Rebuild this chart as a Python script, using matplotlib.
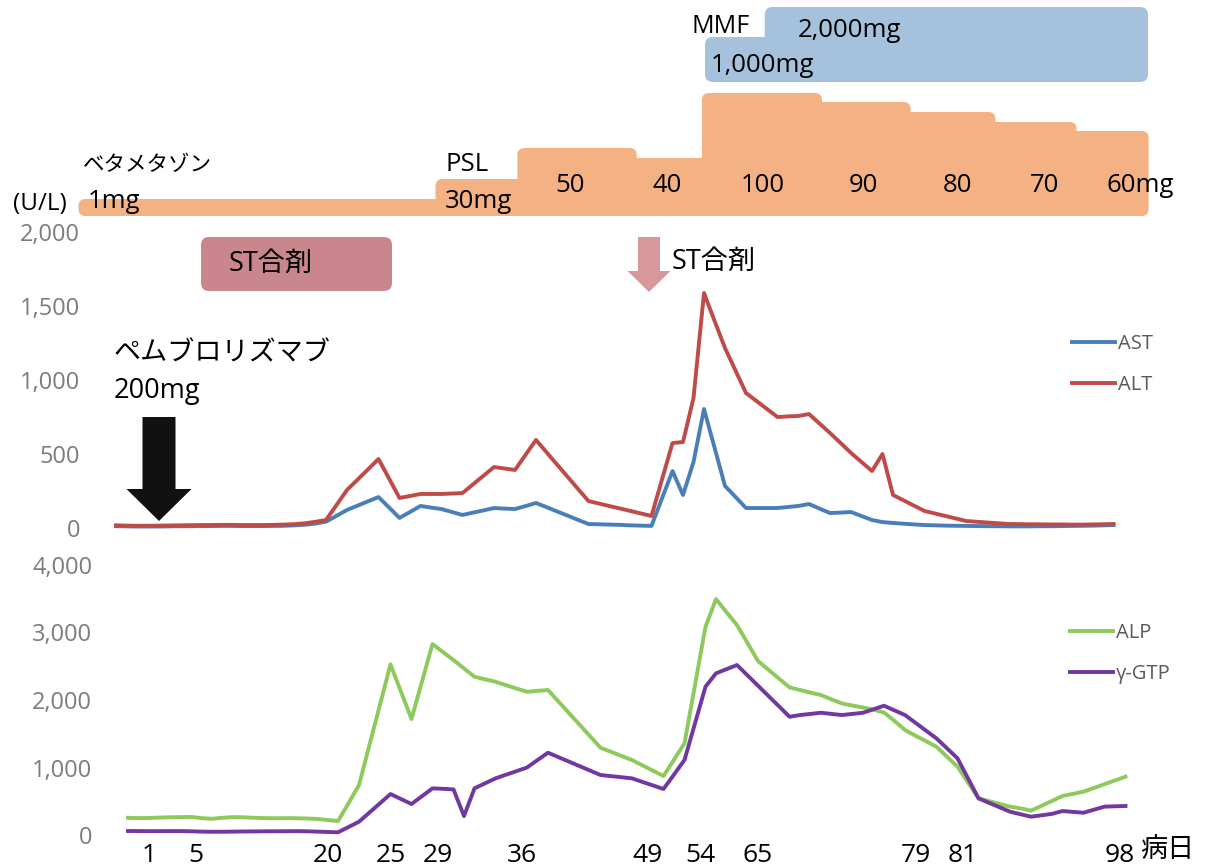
import numpy as np
import matplotlib
matplotlib.use('Agg')
import matplotlib.pyplot as plt
from matplotlib.patches import FancyBboxPatch, FancyArrow, Rectangle

plt.rcParams['font.family'] = ['Open Sans', 'Noto Sans CJK JP', 'DejaVu Sans']

# ---------------- data (one value per measurement, category axis) ----------------
AST = [12, 11, 10, 10, 10, 11, 12, 12, 13, 13,
       14, 14, 13, 13, 13, 14, 15, 18, 22, 30,
       43, 82, 122, 151, 180, 209, 139, 68, 108, 149,
       138, 128, 108, 88, 104, 119, 135, 131, 128, 148,
       169, 141, 112, 84, 55, 27, 25, 23, 21, 18,
       16, 14, 200, 385, 223, 446, 804, 544, 284, 210,
       135, 135, 135, 135, 142, 149, 162, 131, 101, 104,
       108, 81, 54, 40, 34, 29, 24, 20, 18, 16,
       15, 14, 13, 12, 12, 11, 11, 11, 12, 12,
       13, 14, 15, 16, 18, 20]
ALT = [18, 16, 15, 15, 16, 17, 18, 19, 20, 20,
       21, 21, 20, 20, 20, 21, 23, 26, 32, 42,
       54, 155, 257, 326, 396, 466, 335, 203, 216, 230,
       230, 230, 233, 236, 295, 353, 412, 402, 392, 494,
       595, 512, 429, 347, 264, 182, 165, 148, 132, 115,
       98, 81, 328, 574, 581, 878, 1588, 1400, 1216, 1064,
       912, 858, 804, 750, 754, 757, 770, 706, 642, 575,
       507, 446, 385, 500, 223, 187, 151, 115, 98, 81,
       64, 47, 42, 37, 32, 27, 26, 25, 25, 24,
       24, 23, 23, 24, 25, 27]
ALP = [255, 250, 252, 258, 262, 265, 268, 250, 240, 255,
       265, 262, 255, 250, 248, 250, 248, 245, 238, 222,
       207, 470, 740, 1336, 1932, 2528, 2123, 1718, 2274, 2829,
       2710, 2592, 2468, 2344, 2307, 2270, 2220, 2170, 2122, 2135,
       2148, 1977, 1806, 1635, 1464, 1293, 1232, 1171, 1110, 1031,
       953, 874, 1116, 1358, 2222, 3085, 3495, 3300, 3110, 2844,
       2577, 2447, 2317, 2187, 2148, 2110, 2073, 2010, 1948, 1918,
       1889, 1857, 1815, 1690, 1555, 1470, 1390, 1308, 1160, 1012,
       780, 543, 502, 461, 420, 395, 360, 432, 505, 578,
       610, 642, 697, 753, 808, 864]
GGT = [59, 58, 57, 57, 58, 58, 55, 50, 48, 48,
       50, 52, 53, 55, 55, 56, 57, 55, 50, 45,
       40, 118, 197, 334, 470, 607, 533, 459, 575, 691,
       684, 676, 281, 691, 765, 839, 893, 946, 1000, 1110,
       1219, 1153, 1087, 1021, 955, 889, 872, 856, 839, 786,
       734, 681, 896, 1111, 1654, 2197, 2395, 2457, 2518, 2365,
       2212, 2059, 1906, 1752, 1777, 1794, 1811, 1794, 1777, 1794,
       1811, 1863, 1915, 1846, 1777, 1662, 1546, 1431, 1284, 1136,
       840, 543, 477, 411, 345, 308, 271, 292, 313, 355,
       342, 330, 375, 420, 425, 430]

day_labels = ['1', '5', '20', '25', '29', '36', '49', '54', '65', '79', '81', '98']
day_label_pos = [2, 6.5, 19, 25, 29.5, 37.5, 49.5, 54.5, 60, 75, 79.5, 94.5]
upper_ticks = [0, 500, 1000, 1500, 2000]
lower_ticks = [0, 1000, 2000, 3000, 4000]

steroid_labels = ['1mg', '30mg', '50', '40', '100', '90', '80', '70', '60mg']
mmf_labels = ['1,000mg', '2,000mg']

# ---------------- layout (pixels) ----------------
W, H = 1205, 866
STEP = 10.5
n = len(AST)
x = np.arange(n)


def rect(left, top, right, bottom):
    return [left / W, 1 - bottom / H, (right - left) / W, (bottom - top) / H]


fig = plt.figure(figsize=(W / 100, H / 100), dpi=100)

up_left = 116 - STEP / 2
lo_left = 128 - STEP / 2
ax1 = fig.add_axes(rect(up_left, 232, up_left + STEP * n, 528))
ax2 = fig.add_axes(rect(lo_left, 565, lo_left + STEP * n, 835))

C_AST, C_ALT = '#4A7EBB', '#BE4B48'
C_ALP, C_GGT = '#8DC95B', '#7038A0'
GREY = '#7F7A80'
LW = 2.8

l_ast, = ax1.plot(x, AST, color=C_AST, lw=LW, solid_joinstyle='round', clip_on=False)
l_alt, = ax1.plot(x, ALT, color=C_ALT, lw=LW, solid_joinstyle='round', clip_on=False)
l_alp, = ax2.plot(x, ALP, color=C_ALP, lw=LW, solid_joinstyle='round', clip_on=False)
l_ggt, = ax2.plot(x, GGT, color=C_GGT, lw=LW, solid_joinstyle='round', clip_on=False)

for ax, ymax, ticks in ((ax1, 2000, upper_ticks), (ax2, 4000, lower_ticks)):
    ax.set_xlim(-0.5, n - 0.5)
    ax.set_ylim(0, ymax)
    ax.set_facecolor('none')
    for s in ax.spines.values():
        s.set_visible(False)
    ax.set_yticks(ticks, [f'{v:,}' for v in ticks])
    ax.tick_params(axis='y', length=0, pad=22, labelsize=17, labelcolor=GREY)

ax1.set_xticks([])
ax2.set_xticks(day_label_pos, day_labels)
ax2.tick_params(axis='x', length=0, pad=6.0, labelsize=19, labelcolor='black')

leg_kw = dict(loc='upper left', bbox_transform=fig.transFigure, frameon=False,
              borderpad=0, borderaxespad=0, handlelength=2.15, handletextpad=0.15,
              labelspacing=1.05, fontsize=14.5)
leg1 = ax1.legend([l_ast, l_alt], ['AST', 'ALT'], bbox_to_anchor=(1072 / W, 1 - 334 / H), **leg_kw)
leg2 = ax2.legend([l_alp, l_ggt], ['ALP', 'γ-GTP'], bbox_to_anchor=(1070 / W, 1 - 623 / H), **leg_kw)
for lg in (leg1, leg2):
    for t in lg.get_texts():
        t.set_color('#595959')

# ---------------- overlay for treatment annotations ----------------
ov = fig.add_axes([0, 0, 1, 1], zorder=5)
ov.set_xlim(0, W)
ov.set_ylim(H, 0)
ov.axis('off')

C_PSL = '#F4B183'
C_MMF = '#A6C1DC'
C_ST = '#C9878D'
C_STA = '#D6989B'
R = 7

steroid_edges = [78.5, 435.5, 517.4, 636.7, 702, 822, 910.6, 995.4, 1076.5, 1148.6]
steroid_tops = [199, 179, 148, 158, 93, 102, 112, 122, 131]
steroid_bottom = 216
ns = len(steroid_tops)
for i in range(ns):
    left = steroid_edges[i] - (R if i > 0 and steroid_tops[i - 1] < steroid_tops[i] else 0)
    right = steroid_edges[i + 1] + (R if i < ns - 1 and steroid_tops[i + 1] < steroid_tops[i] else 0)
    ov.add_patch(FancyBboxPatch((left, steroid_tops[i]), right - left,
                                steroid_bottom - steroid_tops[i],
                                boxstyle=f'round,pad=0,rounding_size={R}',
                                fc=C_PSL, ec='none'))
ov.add_patch(Rectangle((steroid_edges[0] + R, steroid_bottom - R - 1),
                       steroid_edges[-1] - steroid_edges[0] - 2 * R, R + 1,
                       fc=C_PSL, ec='none'))

# MMF
ov.add_patch(FancyBboxPatch((705, 37), 1148 - 705, 82 - 37,
                            boxstyle='round,pad=0,rounding_size=8', fc=C_MMF, ec='none'))
ov.add_patch(FancyBboxPatch((764.7, 7), 1148 - 764.7, 60 - 7,
                            boxstyle='round,pad=0,rounding_size=8', fc=C_MMF, ec='none'))

# ST box and arrow
ov.add_patch(FancyBboxPatch((201, 237), 392 - 201, 291 - 237,
                            boxstyle='round,pad=0,rounding_size=8', fc=C_ST, ec='none'))
ov.add_patch(FancyArrow(649, 237, 0, 55, width=22, head_width=43, head_length=21,
                        length_includes_head=True, fc=C_STA, ec='none'))
# pembrolizumab arrow
ov.add_patch(FancyArrow(159, 417, 0, 104, width=33, head_width=65, head_length=32,
                        length_includes_head=True, fc='#111111', ec='none'))

TXT = dict(color='black')
ov.text(83, 171, 'ベタメタゾン', fontsize=15.5, va='baseline', ha='left', **TXT)
ov.text(88, 208, steroid_labels[0], fontsize=18.5, va='baseline', ha='left', **TXT)
ov.text(40, 210, '(U/L)', fontsize=17.5, va='baseline', ha='center', **TXT)
ov.text(445, 171, 'PSL', fontsize=18.5, va='baseline', ha='left', **TXT)
ov.text(445, 208, steroid_labels[1], fontsize=18.5, va='baseline', ha='left', **TXT)
dose_centers = [570, 667, 763, 863.5, 957, 1045]
for lab, cx in zip(steroid_labels[2:8], dose_centers):
    ov.text(cx, 192, lab, fontsize=18.5, va='baseline', ha='center', **TXT)
ov.text(1106, 192, steroid_labels[8], fontsize=18.5, va='baseline', ha='left', **TXT)

ov.text(692, 33, 'MMF', fontsize=18, va='baseline', ha='left', **TXT)
ov.text(798, 37, mmf_labels[1], fontsize=18.5, va='baseline', ha='left', **TXT)
ov.text(711, 72, mmf_labels[0], fontsize=18.5, va='baseline', ha='left', **TXT)

ov.text(229, 271, 'ST合剤', fontsize=19.5, va='baseline', ha='left', **TXT)
ov.text(672, 269, 'ST合剤', fontsize=19.5, va='baseline', ha='left', **TXT)

ov.text(114, 360, 'ペムブロリズマブ', fontsize=19.5, va='baseline', ha='left', **TXT)
ov.text(114, 398, '200mg', fontsize=19.5, va='baseline', ha='left', **TXT)

ov.text(1140, 857, '病日', fontsize=19.5, va='baseline', ha='left', **TXT)

fig.savefig('out.png', dpi=100)
